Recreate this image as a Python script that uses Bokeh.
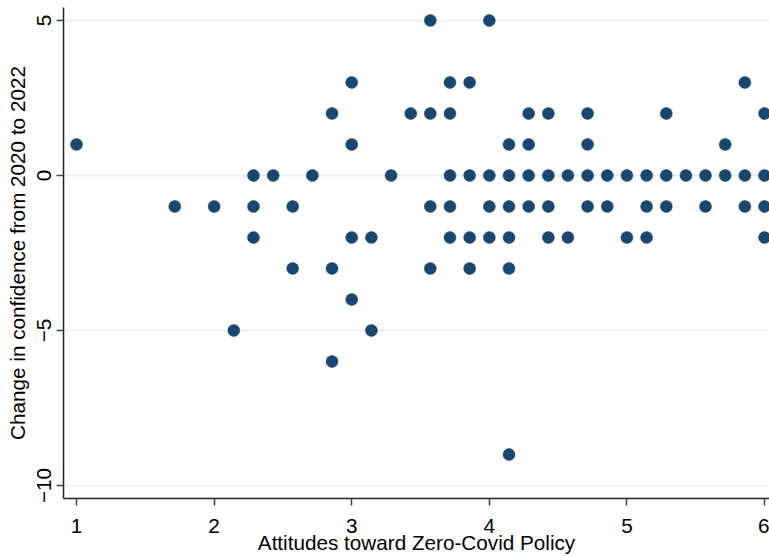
from bokeh.plotting import figure
from bokeh.models import FixedTicker, Range1d
from bokeh.embed import file_html
from bokeh.resources import INLINE

# Attitudes toward Zero-Covid Policy (x) and change in confidence (y)
attitude = [
    3.571, 4.0,
    3.0, 3.714, 3.857, 5.857,
    2.857, 3.429, 3.571, 3.714, 4.286, 4.429, 4.714, 5.286, 6.0,
    1.0, 3.0, 4.143, 4.286, 4.714, 5.714,
    2.286, 2.429, 2.714, 3.286, 3.714, 3.857, 4.0, 4.143, 4.286, 4.429, 4.571,
    4.714, 4.857, 5.0, 5.143, 5.286, 5.429, 5.571, 5.714, 5.857, 6.0,
    1.714, 2.0, 2.286, 2.571, 3.571, 3.714, 4.0, 4.143, 4.286, 4.429, 4.714,
    4.857, 5.143, 5.286, 5.571, 5.857, 6.0,
    2.286, 3.0, 3.143, 3.714, 3.857, 4.0, 4.143, 4.429, 4.571, 5.0, 5.143, 6.0,
    2.571, 2.857, 3.571, 3.857, 4.143,
    3.0,
    2.143, 3.143,
    2.857,
    4.143,
]
conf_change = [
    5, 5,
    3, 3, 3, 3,
    2, 2, 2, 2, 2, 2, 2, 2, 2,
    1, 1, 1, 1, 1, 1,
    0, 0, 0, 0, 0, 0, 0, 0, 0, 0, 0,
    0, 0, 0, 0, 0, 0, 0, 0, 0, 0,
    -1, -1, -1, -1, -1, -1, -1, -1, -1, -1, -1,
    -1, -1, -1, -1, -1, -1,
    -2, -2, -2, -2, -2, -2, -2, -2, -2, -2, -2, -2,
    -3, -3, -3, -3, -3,
    -4,
    -5, -5,
    -6,
    -9,
]
x_ticks = [1, 2, 3, 4, 5, 6]
y_ticks = [-10, -5, 0, 5]

FONT = "Liberation Sans"
NAVY = "#1a476f"

p = figure(width=769, height=556, output_backend="svg", toolbar_location=None,
           x_range=Range1d(0.9055, 6.036), y_range=Range1d(-10.418, 5.418),
           min_border_left=63, min_border_right=0, min_border_top=7,
           min_border_bottom=57)
p.outline_line_color = None
p.background_fill_color = "white"
p.border_fill_color = "white"

p.scatter(attitude, conf_change, size=12, fill_color=NAVY, line_color=NAVY,
          line_width=0.5)

p.xaxis.ticker = FixedTicker(ticks=x_ticks)
p.yaxis.ticker = FixedTicker(ticks=y_ticks)
p.xaxis.axis_label = "Attitudes toward Zero-Covid Policy"
p.yaxis.axis_label = "Change in confidence from 2020 to 2022"
p.yaxis.major_label_orientation = "vertical"

for ax in (p.xaxis[0], p.yaxis[0]):
    ax.axis_label_text_font = FONT
    ax.axis_label_text_font_style = "normal"
    ax.axis_label_text_font_size = "20.7px"
    ax.axis_label_text_color = "black"
    ax.major_label_text_font = FONT
    ax.major_label_text_font_size = "20.7px"
    ax.major_label_text_color = "black"
    ax.axis_line_color = "#222222"
    ax.axis_line_width = 1.5
    ax.major_tick_line_color = "#444444"
    ax.major_tick_line_width = 1.5
    ax.major_tick_out = 7
    ax.major_tick_in = 0
    ax.minor_tick_line_color = None

p.xaxis.major_label_standoff = 13
p.xaxis.axis_label_standoff = -5
p.yaxis.major_label_standoff = 5
p.yaxis.axis_label_standoff = 6

p.xgrid.visible = False
p.ygrid.ticker = FixedTicker(ticks=y_ticks)
p.ygrid.grid_line_color = "#e4edf1"
p.ygrid.grid_line_width = 1.5

open("out.html", "w").write(file_html(p, INLINE))
